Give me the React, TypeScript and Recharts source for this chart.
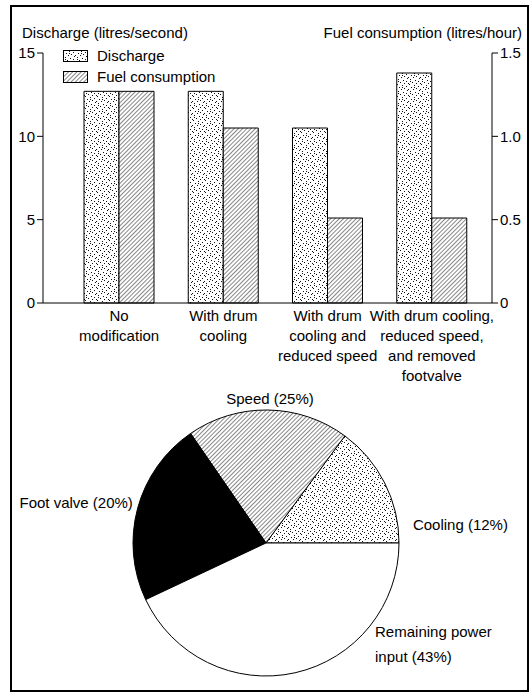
import { Bar, BarChart, Cell, Legend, Pie, PieChart, XAxis, YAxis } from "recharts";

const categories = [
  "No\nmodification",
  "With drum\ncooling",
  "With drum\ncooling and\nreduced speed",
  "With drum cooling,\nreduced speed,\nand removed\nfootvalve",
];
const discharge = [12.7, 12.7, 10.5, 13.8];
const fuel = [1.27, 1.05, 0.51, 0.51];
const dischargeTicks = [0, 5, 10, 15];
const fuelTicks = [0, 0.5, 1.0, 1.5];

// pie: printed percentages vs. the shares as actually drawn in the figure
const pieNames = ["Cooling", "Speed", "Foot valve", "Remaining power\ninput"];
const piePrinted = [12, 25, 20, 43];
const pieDrawn = [14.9, 19.7, 22.4, 43.0];

const FONT = "'Liberation Sans', Arial, sans-serif";
const pieFills = ["url(#dots)", "url(#hatch)", "#000", "#fff"];

// where each pie label sits: angle (deg, ccw from east), distance from centre, anchor
const labelSpots = [
  { angle: 7, r: 148, anchor: "start" },
  { angle: 88.4, r: 144, anchor: "middle" },
  { angle: 163.3, r: 139, anchor: "end" },
  { angle: -39.2, r: 140.7, anchor: "start" },
];

// stipple positions inside one 12x12 pattern tile
const stipple = [
  [1, 0], [6, 1], [10, 2], [3, 3], [8, 4], [0, 5], [5, 5], [11, 6],
  [2, 7], [7, 8], [10, 9], [4, 10], [0, 11], [8, 11], [6, 3], [2, 9],
];

const barData = categories.map((c, i) => ({
  category: c,
  discharge: discharge[i],
  fuel: fuel[i],
}));
const pieData = pieNames.map((n, i) => ({
  name: n,
  printed: piePrinted[i],
  value: pieDrawn[i],
}));

function Patterns() {
  return (
    <svg width={0} height={0} style={{ position: "absolute" }}>
      <defs>
        <pattern id="dots" width={12} height={12} patternUnits="userSpaceOnUse">
          <rect width={12} height={12} fill="#fff" />
          {stipple.map(([x, y], i) => (
            <rect key={i} x={x} y={y} width={1} height={1} fill="#111" />
          ))}
        </pattern>
        <pattern
          id="hatch"
          width={3}
          height={3}
          patternUnits="userSpaceOnUse"
          patternTransform="rotate(45)"
        >
          <rect width={3} height={3} fill="#fff" />
          <line x1={1.5} y1={0} x2={1.5} y2={3} stroke="#555" strokeWidth={0.7} />
        </pattern>
      </defs>
    </svg>
  );
}

function CategoryTick(props: any) {
  const { x, y, payload } = props;
  const lines = String(payload.value).split("\n");
  return (
    <g transform={`translate(${x},${y})`}>
      <text textAnchor="middle" fontSize={15} fill="#000" fontFamily={FONT}>
        {lines.map((l, i) => (
          <tspan key={i} x={0} dy={i === 0 ? 18 : 20}>
            {l}
          </tspan>
        ))}
      </text>
    </g>
  );
}

function LegendBox(props: any) {
  const fills = ["url(#dots)", "url(#hatch)"];
  return (
    <div style={{ fontFamily: FONT, fontSize: 15, color: "#000" }}>
      {(props.payload || []).map((p: any, i: number) => (
        <div
          key={p.value}
          style={{ display: "flex", alignItems: "center", height: 21 }}
        >
          <svg width={25} height={12} style={{ marginRight: 9 }}>
            <rect x={0.5} y={0.5} width={24} height={11} fill={fills[i]} stroke="#000" />
          </svg>
          <span>{p.value}</span>
        </div>
      ))}
    </div>
  );
}

function PieLabel(props: any) {
  const { cx, cy, index } = props;
  const spot = labelSpots[index];
  const a = (spot.angle * Math.PI) / 180;
  const x = cx + spot.r * Math.cos(a);
  const y = cy - spot.r * Math.sin(a);
  const lines = `${pieData[index].name} (${pieData[index].printed}%)`.split("\n");
  return (
    <text
      x={x}
      y={y + 5}
      textAnchor={spot.anchor}
      fontSize={15}
      fill="#000"
      fontFamily={FONT}
    >
      {lines.map((l, i) => (
        <tspan key={i} x={x} dy={i === 0 ? 0 : 25}>
          {l}
        </tspan>
      ))}
    </text>
  );
}

export default function App() {
  return (
    <div
      style={{
        position: "absolute",
        left: 0,
        top: 0,
        width: 532,
        height: 694,
        background: "#fff",
        fontFamily: FONT,
      }}
    >
      <Patterns />
      <div
        style={{
          position: "absolute",
          left: 10,
          top: 5,
          width: 519,
          height: 687,
          border: "2px solid #000",
          boxSizing: "border-box",
        }}
      />
      <div
        style={{
          position: "absolute",
          left: 22,
          top: 24,
          fontSize: 15,
          lineHeight: "18px",
          whiteSpace: "nowrap",
        }}
      >
        Discharge (litres/second)
      </div>
      <div
        style={{
          position: "absolute",
          right: 10,
          top: 24,
          fontSize: 15,
          lineHeight: "18px",
          whiteSpace: "nowrap",
        }}
      >
        Fuel consumption (litres/hour)
      </div>

      <div style={{ position: "absolute", left: 0, top: 0 }}>
        <BarChart
          width={532}
          height={390}
          data={barData}
          margin={{ top: 53, right: 0, bottom: 0, left: 0 }}
          barGap={0}
          barSize={35}
        >
          <XAxis
            dataKey="category"
            height={87}
            interval={0}
            tick={<CategoryTick />}
            tickLine={false}
            tickSize={0}
            tickMargin={0}
            padding={{ left: 24, right: 8 }}
            stroke="#000"
          />
          <YAxis
            yAxisId="left"
            orientation="left"
            width={43}
            domain={[0, 15]}
            ticks={dischargeTicks}
            stroke="#000"
            tick={{ fill: "#000", fontSize: 15, fontFamily: FONT }}
          />
          <YAxis
            yAxisId="right"
            orientation="right"
            width={40}
            domain={[0, 1.5]}
            ticks={fuelTicks}
            stroke="#000"
            tickFormatter={(v: number) => (v === 0 ? "0" : v.toFixed(1))}
            tick={{ fill: "#000", fontSize: 15, fontFamily: FONT }}
          />
          <Legend
            layout="horizontal"
            verticalAlign="middle"
            align="center"
            content={<LegendBox />}
            wrapperStyle={{ left: 63, top: 45, width: "auto" }}
          />
          <Bar
            yAxisId="left"
            dataKey="discharge"
            name="Discharge"
            fill="url(#dots)"
            stroke="#000"
            strokeWidth={1}
            isAnimationActive={false}
          />
          <Bar
            yAxisId="right"
            dataKey="fuel"
            name="Fuel consumption"
            fill="url(#hatch)"
            stroke="#000"
            strokeWidth={1}
            isAnimationActive={false}
          />
        </BarChart>
      </div>

      <div style={{ position: "absolute", left: 0, top: 390 }}>
        <PieChart width={532} height={304} margin={{ top: 0, right: 0, bottom: 0, left: 0 }}>
          <Pie
            data={pieData}
            dataKey="value"
            nameKey="name"
            cx={266}
            cy={153}
            outerRadius={133}
            startAngle={0}
            endAngle={360}
            stroke="#000"
            strokeWidth={1}
            label={PieLabel}
            labelLine={false}
            isAnimationActive={false}
          >
            {pieData.map((d, i) => (
              <Cell key={d.name} fill={pieFills[i]} stroke="#000" />
            ))}
          </Pie>
        </PieChart>
      </div>
    </div>
  );
}
